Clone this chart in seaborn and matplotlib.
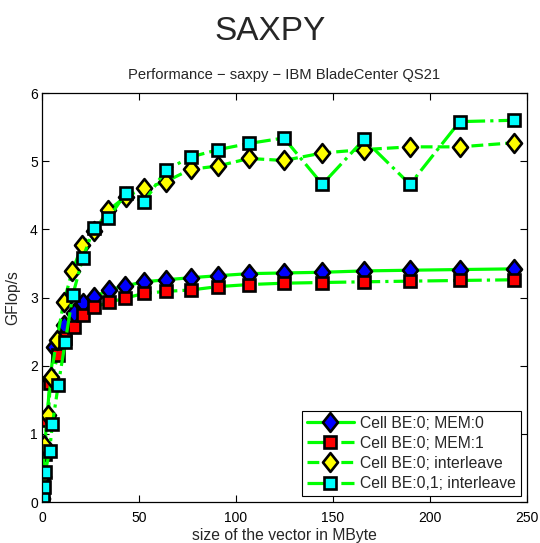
import matplotlib
matplotlib.use("Agg")
import matplotlib.pyplot as plt
from matplotlib.path import Path
import seaborn as sns

# Vector sizes (MByte) and measured GFlop/s for each configuration
x_mem0 = [0.2, 0.6, 1.3, 2.6, 4.2, 6.2, 11.5, 16.3, 21.2, 26.9, 34.5, 42.8, 52.6,
          63.8, 76.6, 90.9, 106.7, 124.7, 144.5, 166.0, 189.7, 215.3, 243.3]
y_mem0 = [0.06, 0.36, 0.78, 1.25, 1.80, 2.28, 2.60, 2.77, 2.92, 3.01, 3.11, 3.17, 3.23,
          3.26, 3.29, 3.32, 3.35, 3.36, 3.37, 3.39, 3.40, 3.41, 3.42]

x_mem1 = [0.2, 0.6, 1.3, 2.6, 4.2, 8.4, 12.0, 16.3, 21.2, 26.9, 34.5, 42.8, 52.6,
          63.8, 76.6, 90.9, 106.7, 124.7, 144.5, 166.0, 189.7, 215.3, 243.3]
y_mem1 = [0.05, 0.30, 0.70, 1.20, 1.75, 2.16, 2.40, 2.57, 2.75, 2.86, 2.93, 2.99, 3.06,
          3.09, 3.11, 3.16, 3.19, 3.21, 3.22, 3.23, 3.24, 3.25, 3.26]

x_inter = [0.2, 0.5, 1.2, 3.2, 4.5, 7.6, 11.2, 15.6, 20.8, 26.8, 34.2, 43.2, 52.6,
           63.8, 76.6, 90.9, 106.7, 124.7, 144.5, 166.0, 189.7, 215.3, 243.3]
y_inter = [0.05, 0.38, 0.84, 1.27, 1.83, 2.38, 2.93, 3.39, 3.77, 3.97, 4.28, 4.48, 4.60,
           4.70, 4.88, 4.93, 5.04, 5.01, 5.12, 5.17, 5.21, 5.21, 5.27]

x_both = [0.2, 0.4, 0.9, 1.7, 3.9, 5.4, 8.4, 12.0, 15.8, 21.0, 26.8, 34.2, 43.2, 52.6,
          63.8, 76.6, 90.9, 106.7, 124.7, 144.5, 166.0, 189.7, 215.3, 243.3]
y_both = [0.03, 0.09, 0.22, 0.44, 0.75, 1.15, 1.72, 2.35, 3.03, 3.58, 4.02, 4.16, 4.53, 4.40,
          4.87, 5.06, 5.17, 5.26, 5.34, 4.66, 5.32, 4.66, 5.58, 5.60]

labels = ["Cell BE:0; MEM:0", "Cell BE:0; MEM:1",
          "Cell BE:0; interleave", "Cell BE:0,1; interleave"]
x_ticks = [0, 50, 100, 150, 200, 250]
y_ticks = [0, 1, 2, 3, 4, 5, 6]

sns.set_theme(style="white")
plt.rcParams["font.family"] = ["Liberation Sans", "DejaVu Sans"]
plt.rcParams["axes.edgecolor"] = "black"
plt.rcParams["axes.linewidth"] = 0.9

fig = plt.figure(figsize=(5.4, 5.43), dpi=100)
ax = fig.add_axes([42 / 540, 1 - 502 / 543, 485 / 540, 409 / 543])

# slightly tall diamond marker
diamond = Path([(0, 1), (0.8, 0), (0, -1), (-0.8, 0), (0, 1)],
               [Path.MOVETO, Path.LINETO, Path.LINETO, Path.LINETO, Path.CLOSEPOLY])

line_color = "#00ff00"
series = [
    (x_mem0, y_mem0, "-", diamond, "#0000ff", 13.5),
    (x_mem1, y_mem1, "-.", "s", "#ff0000", 8),
    (x_inter, y_inter, "--", diamond, "#ffff00", 13.5),
    (x_both, y_both, "-.", "s", "#00ffff", 8),
]
for (xs, ys, ls, mk, fc, ms), lab in zip(series, labels):
    sns.lineplot(x=xs, y=ys, ax=ax, color=line_color, linestyle=ls, linewidth=2.3,
                 marker=mk, markersize=ms, markerfacecolor=fc,
                 markeredgecolor="black", markeredgewidth=1.9,
                 errorbar=None, label=lab)

ax.set_xlim(0, 250)
ax.set_ylim(0, 6)
ax.set_xticks(x_ticks)
ax.set_yticks(y_ticks)
ax.tick_params(direction="in", top=True, right=True, bottom=True, left=True,
               length=5, width=0.8, labelsize=10, colors="black")
ax.tick_params(axis="x", pad=6.5)
ax.tick_params(axis="y", pad=3)

ax.set_title("Performance \u2212 saxpy \u2212 IBM BladeCenter QS21", fontsize=10.6, pad=10)
ax.set_xlabel("size of the vector in MByte", fontsize=11.3, labelpad=2)
ax.set_ylabel("GFlop/s", fontsize=11.3, labelpad=7)
fig.text(0.5, 1 - 31 / 543, "SAXPY", ha="center", va="center", fontsize=24)

leg = ax.legend(loc="lower right", fontsize=11.3, frameon=True, fancybox=False,
                edgecolor="black", framealpha=1, handlelength=3.0,
                borderpad=0.3, labelspacing=0.32, handletextpad=0.4,
                borderaxespad=0.4)
leg.get_frame().set_linewidth(0.8)

fig.savefig("out.png", dpi=100)
